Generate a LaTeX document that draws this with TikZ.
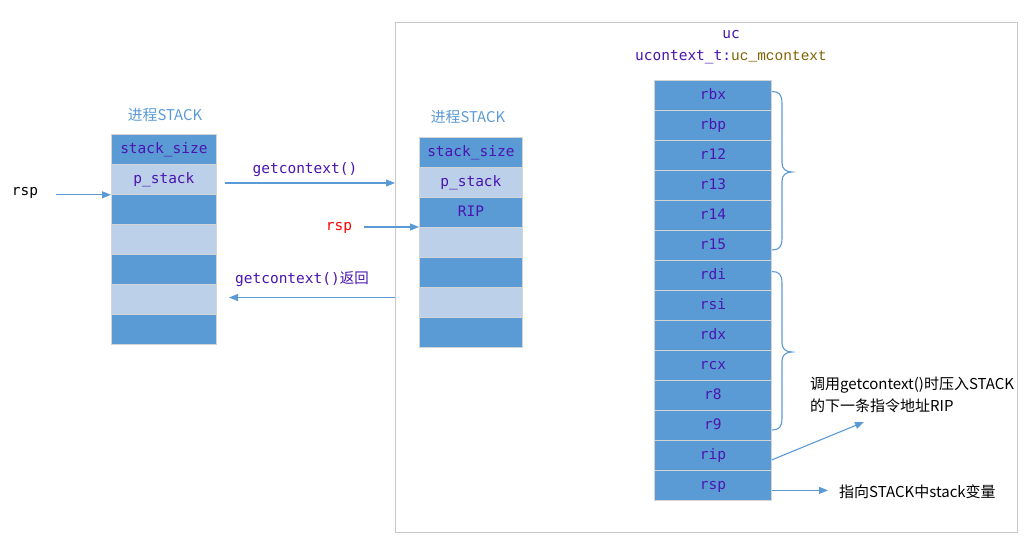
\documentclass[tikz,border=0pt]{standalone}
\usepackage{fontspec}
\setmonofont{DejaVu Sans Mono}
\newfontfamily\cjk{Noto Sans CJK SC}
\newfontfamily\cour{Liberation Mono}
\usetikzlibrary{arrows.meta,positioning}
\definecolor{dkb}{HTML}{5B9BD5}
\definecolor{ltb}{HTML}{BDD0E9}
\definecolor{txt}{HTML}{4A15B0}
\definecolor{olive}{HTML}{7F6000}
\definecolor{grid}{HTML}{D4D4D4}
\definecolor{frm}{HTML}{C8C8C8}
\tikzset{
  cellbox/.style={rectangle, draw=grid, line width=0.8pt, inner sep=0pt, anchor=north west,
    font=\fontsize{14.5}{16}\ttfamily, text=txt, text height=12pt, text depth=3pt},
  dcell/.style={cellbox, fill=dkb},
  lcell/.style={cellbox, fill=ltb},
  lw/.style={minimum width=105pt, minimum height=30pt},
  mw/.style={minimum width=103pt, minimum height=30pt},
  rw/.style={minimum width=117pt, minimum height=30pt},
  arr/.style={draw=dkb, line width=1.1pt, -{Triangle[length=9pt,width=7pt]}},
  brc/.style={draw=dkb, line width=1.1pt},
  ttl/.style={font=\cjk\fontsize{14.8}{16}\selectfont, text=dkb},
  lbl/.style={font=\fontsize{14.5}{16}\ttfamily, text=txt},
  note/.style={font=\cjk\fontsize{15}{21.5}\selectfont, text=black, align=left},
}
\newcommand{\mybrace}[3]{%
  \draw[brc] (772,#1) .. controls (779,#1) and (782,#1+3) .. (782,#1+12)
    -- (782,#2-9) .. controls (782,#2-3) and (786,#2) .. (792,#2)
    .. controls (786,#2) and (782,#2+3) .. (782,#2+9)
    -- (782,#3-12) .. controls (782,#3-3) and (779,#3) .. (772,#3);}
\begin{document}
\begin{tikzpicture}[x=1pt,y=-1pt]
\useasboundingbox (0,0) rectangle (1036,552);
\fill[white] (0,0) rectangle (1036,552);
% frame
\node[draw=frm, line width=1pt, minimum width=622pt, minimum height=510pt, inner sep=0pt, anchor=north west] (frame) at (395,22) {};
% left stack
\node[ttl] (t1) at (165,115) {进程STACK};
\node[dcell,lw] (l1) at (111,134) {stack\_size};
\node[lcell,lw] (l2) at (111,164) {p\_stack};
\node[dcell,lw] (l3) at (111,194) {};
\node[lcell,lw] (l4) at (111,224) {};
\node[dcell,lw] (l5) at (111,254) {};
\node[lcell,lw] (l6) at (111,284) {};
\node[dcell,lw] (l7) at (111,314) {};
% middle stack
\node[ttl] (t2) at (468,117) {进程STACK};
\node[dcell,mw] (m1) at (419,137) {stack\_size};
\node[lcell,mw] (m2) at (419,167) {p\_stack};
\node[dcell,mw] (m3) at (419,197) {RIP};
\node[lcell,mw] (m4) at (419,227) {};
\node[dcell,mw] (m5) at (419,257) {};
\node[lcell,mw] (m6) at (419,287) {};
\node[dcell,mw] (m7) at (419,317) {};
% right stack
\node[lbl] (uc) at (731,35) {uc};
\node[lbl] (uct) at (731,57) {ucontext\_t:{\cour\textcolor{olive}{uc\_mcontext}}};
\foreach \n [count=\i from 0] in {rbx,rbp,r12,r13,r14,r15,rdi,rsi,rdx,rcx,r8,r9,rip,rsp}{
  \node[dcell,rw] (r\n) at (654,{79.5+30*\i}) {\n};
}
% left rsp
\node[font=\fontsize{14.5}{16}\ttfamily] (rsp1) at (25,193) {rsp};
\draw[arr] ([xshift=14pt]rsp1.east |- l2.south west) -- (l2.south west);
% getcontext()
\coordinate (g1) at (225,183);
\draw[arr] (g1) -- (g1 -| frame.west);
\node[lbl] (g1l) at (305,170) {getcontext()};
% red rsp
\node[font=\fontsize{14.5}{16}\ttfamily, text=red] (rsp2) at (339,228) {rsp};
\draw[arr] ([xshift=8pt]rsp2.east |- m4.north west) -- (m4.north west);
% return
\coordinate (g2) at (229,297.5);
\draw[arr] (g2 -| frame.west) -- (g2);
\node[lbl] (g2l) at (302,279) {getcontext()\cjk 返回};
% braces
\mybrace{91.5}{172}{250}
\mybrace{271.5}{352}{430}
% notes
\node[note, anchor=north west, inner sep=0pt] (n1) at (810,377) {调用getcontext()时压入STACK\\的下一条指令地址RIP};
\coordinate (n1a) at (864,422);
\draw[arr] ([yshift=-5pt]rrip.east) -- (n1a);
\node[note, anchor=west, inner sep=0pt] (n2) at (839,492) {指向STACK中stack变量};
\draw[arr] ([yshift=-5.5pt]rrsp.east) -- ([yshift=-5.5pt]rrsp.east -| 828,0);
\end{tikzpicture}
\end{document}
